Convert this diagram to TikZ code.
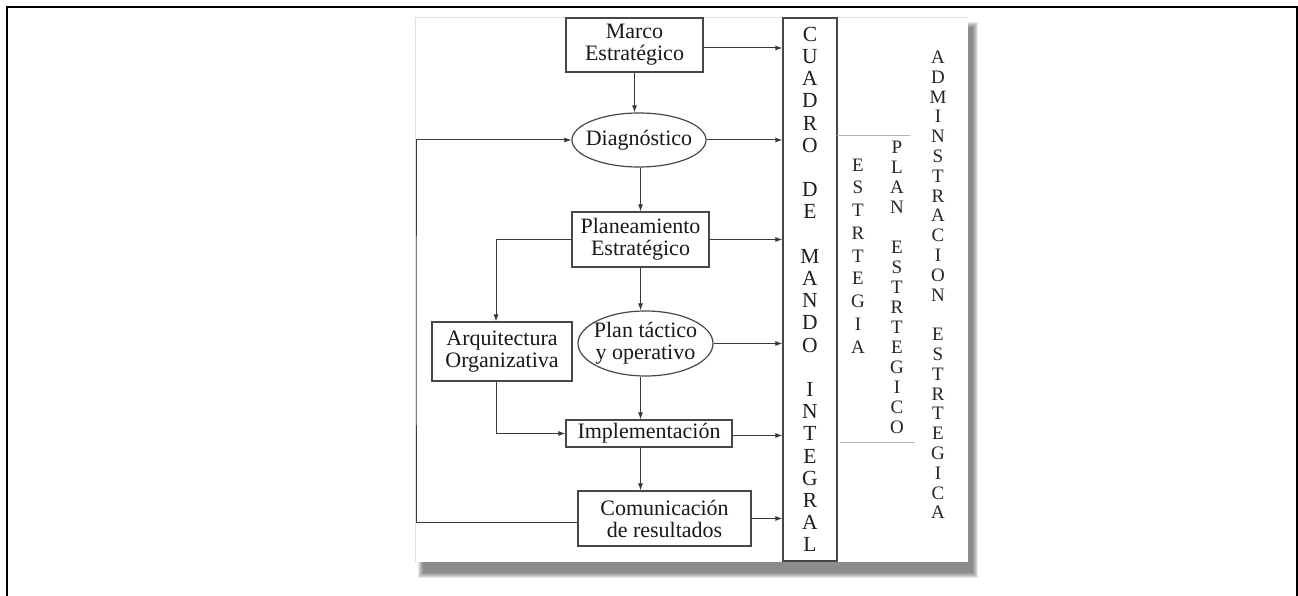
\documentclass[tikz,border=0pt]{standalone}
\usepackage{fontspec}
\setmainfont{Liberation Serif}
\usetikzlibrary{shapes.geometric,arrows.meta}
\begin{document}
\begin{tikzpicture}[x=1pt,y=-1pt,
  line/.style={draw=black!78, line width=1pt},
  arr/.style={line, -{Latex[length=7pt,width=5pt]}},
  box/.style={draw=black!72, line width=1.2pt, fill=white, inner sep=0pt,
    font=\fontsize{22}{22}\selectfont, align=center, text=black!90},
  oval/.style={box, ellipse, inner xsep=-10pt},
  col/.style={inner sep=0pt, align=center, text=black!85},
  divider/.style={draw=black!30, line width=0.9pt},
]
\useasboundingbox (0,0) rectangle (1298,596);
% outer frame
\draw[line width=2.5pt] (7,600) -- (7,7) -- (1297,7) -- (1297,600);
% panel shadow and panel
\foreach \i in {0,...,5}
  \fill[black,opacity=0.095] (418+\i,22+\i) rectangle (978-\i,578-\i);
\fill[white] (415,17) rectangle (968,562);
\draw[black!12] (415,562) -- (415,17) -- (968,17);

% nodes
\node[box, minimum width=137pt, minimum height=54pt] (marco) at (634.5,45) {Marco\\Estratégico};
\node[oval, minimum width=134pt, minimum height=54pt] (diag) at (639,140) {Diagnóstico};
\node[box, minimum width=137pt, minimum height=55pt] (plan) at (640.5,239.5) {Planeamiento\\Estratégico};
\node[box, minimum width=140pt, minimum height=59pt] (arq) at (502,351.5) {Arquitectura\\Organizativa};
\node[oval, minimum width=135pt, minimum height=65pt] (tact) at (645.5,343.5) {Plan táctico\\y operativo};
\node[box, minimum width=166pt, minimum height=27pt] (impl) at (649,433.5) {Implementación};
\node[box, minimum width=173pt, minimum height=55pt] (com) at (664.5,518.5) {Comunicación\\de resultados};
\node[draw=black!72, line width=1.2pt, fill=white, minimum width=54pt, minimum height=543pt,
  inner sep=0pt, align=center, text=black!88, font=\fontsize{21.5}{22.2}\selectfont] (cmi) at (810,289.5)
  {C\\U\\A\\D\\R\\O\\\mbox{}\\D\\E\\\mbox{}\\M\\A\\N\\D\\O\\\mbox{}\\I\\N\\T\\E\\G\\R\\A\\L};

% right-hand columns
\node[col, font=\fontsize{19}{22.75}\selectfont] (estr) at (858,256) {E\\S\\T\\R\\T\\E\\G\\I\\A};
\node[col, font=\fontsize{19}{20}\selectfont] (plane) at (897,287)
  {P\\L\\A\\N\\\mbox{}\\E\\S\\T\\R\\T\\E\\G\\I\\C\\O};
\node[col, font=\fontsize{19}{19.8}\selectfont] (adm) at (938,285)
  {A\\D\\M\\I\\N\\S\\T\\R\\A\\C\\I\\O\\N\\\mbox{}\\E\\S\\T\\R\\T\\E\\G\\I\\C\\A};
\draw[divider] (837,135) -- (910,135);
\draw[divider] (840,442) -- (915,442);

% vertical flow
\draw[arr] (marco.south) -- (marco.south |- diag.north);
\draw[arr] (diag.south -| plan.north) -- (plan.north);
\draw[arr] (plan.south) -- (plan.south |- tact.north);
\draw[arr] (tact.south -| plan.south) -- (impl.north -| plan.south);
\draw[arr] (impl.south -| plan.south) -- (com.north -| plan.south);

% arrows to the CMI
\draw[arr] ([yshift=-3pt]marco.east) -- ([yshift=-3pt]marco.east -| cmi.west);
\draw[arr] (diag.east) -- (diag.east -| cmi.west);
\draw[arr] (plan.east) -- (plan.east -| cmi.west);
\draw[arr] (tact.east) -- (tact.east -| cmi.west);
\draw[arr] ([yshift=-2pt]impl.east) -- ([yshift=-2pt]impl.east -| cmi.west);
\draw[arr] (com.east) -- (com.east -| cmi.west);

% side branches
\draw[arr] (plan.west) -| ([xshift=-6pt]arq.north);
\draw[arr] ([xshift=-6pt]arq.south) |- (impl.west);
\coordinate (fb) at (416,330);
\draw[arr] ([yshift=-4pt]com.west) -| (fb) |- (diag.west);
\end{tikzpicture}
\end{document}
